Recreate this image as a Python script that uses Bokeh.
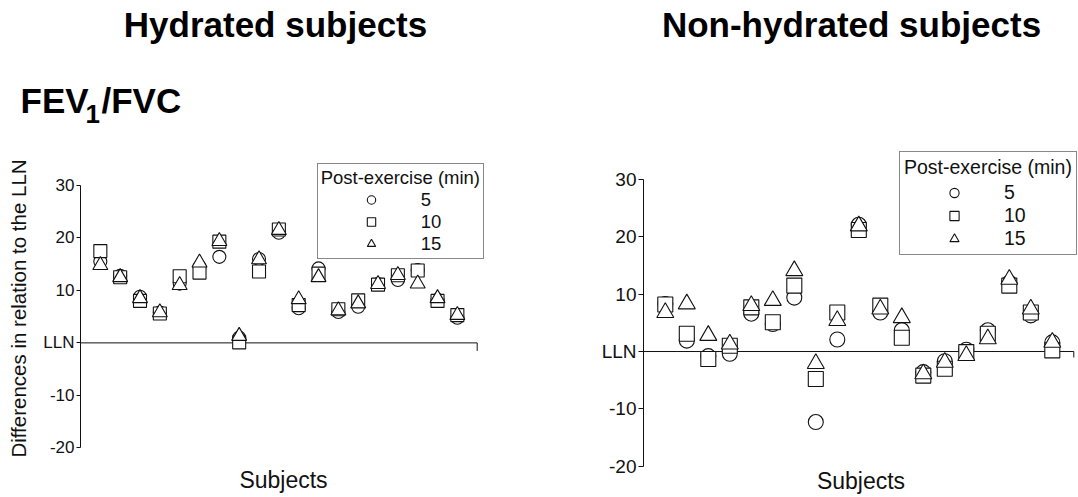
from bokeh.plotting import figure
from bokeh.models import Range1d, LinearAxis, FixedTicker, Legend, LegendItem, Label
from bokeh.layouts import row, column
from bokeh.embed import file_html
from bokeh.resources import INLINE

# ---------------- data ----------------
subjects = list(range(1, 20))

# Hydrated subjects: difference in relation to the LLN at 5, 10, 15 min post-exercise
hyd_5 = [15.5, 12.8, 8.8, 5.8, 11.3, 14.5, 16.4, 1.0, 16.0, 21.0, 6.6, 14.2, 5.9, 6.9, 11.2, 12.0, 13.9, 8.2, 4.8]
hyd_10 = [17.5, 12.5, 8.0, 5.6, 12.7, 13.4, 19.3, 0.1, 13.6, 21.6, 7.2, 13.2, 6.4, 8.1, 11.1, 12.9, 13.8, 8.0, 5.3]
hyd_15 = [14.8, 12.5, 8.5, 5.8, 11.0, 15.3, 19.4, 1.3, 15.9, 21.5, 8.3, 12.5, 6.2, 7.5, 11.2, 12.9, 11.3, 8.5, 5.3]

# Non-hydrated subjects
non_5 = [8.3, 1.9, -0.8, -0.4, 6.6, 4.8, 9.4, -12.3, 2.1, 22.1, 6.8, 3.7, -3.6, -1.7, 0.3, 3.7, 12.0, 6.3, 1.6]
non_10 = [8.2, 3.1, -1.3, 1.0, 7.7, 5.1, 11.5, -4.8, 6.8, 21.2, 8.0, 2.4, -4.2, -3.0, -0.1, 3.1, 11.5, 6.8, 0.2]
non_15 = [6.8, 8.3, 2.8, 1.3, 8.0, 8.9, 14.1, -2.1, 5.4, 21.9, 7.4, 5.9, -3.9, -1.9, -0.7, 2.2, 12.6, 7.4, 1.6]

y_ticks = [-20, -10, 0, 10, 20, 30]
tick_labels = {t: ("LLN" if t == 0 else str(t)) for t in y_ticks}
legend_title = "Post-exercise (min)"
legend_labels = ["5", "10", "15"]
markers = ["circle", "square", "triangle"]

FONT = "Liberation Sans"
INK = "#111111"

HEADER_H = 150
PANEL_H = 497 - HEADER_H
FRAME_BOTTOM = 316  # shared by both panels (row aligns frames)


def make_panel(width, fl, fr, x0_px, xn_px, y30_px, ym20_px,
               series, tick_fs, tick_len, marker_size, tri_size, lln_tick_px,
               leg, ylabel=None, ylabel_standoff=7, xlabel_standoff=0):
    height = PANEL_H
    ft, fb = 0, FRAME_BOTTOM
    n_end = len(subjects) + 1
    ppx = (xn_px - x0_px) / n_end
    x_start = (fl - x0_px) / ppx
    x_end = (fr - x0_px) / ppx
    ppy = (ym20_px - y30_px) / (y_ticks[-1] - y_ticks[0])
    y_end = y_ticks[-1] + (y30_px - ft) / ppy
    y_start = y_ticks[0] - (fb - ym20_px) / ppy

    p = figure(width=width, height=height, output_backend="svg", toolbar_location=None,
               x_range=Range1d(x_start, x_end), y_range=Range1d(y_start, y_end),
               x_axis_type=None, y_axis_type=None,
               min_border_left=fl, min_border_right=width - fr,
               min_border_top=ft, min_border_bottom=height - fb)
    p.outline_line_color = None
    p.background_fill_color = "white"
    p.border_fill_color = "white"
    p.xgrid.visible = False
    p.ygrid.visible = False

    yax = LinearAxis(bounds=(y_ticks[0], y_ticks[-1]), ticker=FixedTicker(ticks=y_ticks),
                     major_label_overrides=tick_labels,
                     axis_line_color=INK, axis_line_width=1,
                     major_tick_line_color=INK, major_tick_in=0, major_tick_out=tick_len,
                     minor_tick_line_color=None, major_label_standoff=2,
                     major_label_text_font=FONT, major_label_text_font_size=tick_fs,
                     major_label_text_color=INK)
    if ylabel:
        yax.axis_label = ylabel
        yax.axis_label_text_font = FONT
        yax.axis_label_text_font_size = "20.5px"
        yax.axis_label_text_font_style = "normal"
        yax.axis_label_text_color = INK
        yax.axis_label_standoff = ylabel_standoff
    p.add_layout(yax, "left")

    xax = LinearAxis(ticker=FixedTicker(ticks=[]), axis_label="Subjects",
                     axis_line_color=None, major_tick_line_color=None, minor_tick_line_color=None,
                     major_tick_out=0, major_tick_in=0, minor_tick_out=0, minor_tick_in=0,
                     major_label_standoff=0, major_label_text_font_size="0px",
                     axis_label_standoff=xlabel_standoff,
                     axis_label_text_font=FONT, axis_label_text_font_size="23px",
                     axis_label_text_font_style="normal", axis_label_text_color=INK)
    p.add_layout(xax, "below")

    # LLN reference line with its end tick
    lln = 0
    tick_units = lln_tick_px / ppy
    p.segment(x0=[0, n_end], y0=[lln, lln], x1=[n_end, n_end], y1=[lln, lln - tick_units],
              line_color=INK, line_width=1)

    rends = []
    for vals, mk in zip(series, markers):
        sz = tri_size if mk == "triangle" else marker_size
        r = p.scatter(x=subjects, y=vals, marker=mk, size=sz, line_color=INK,
                      fill_color="white", line_width=1.1)
        rends.append(r)

    items = [LegendItem(label=lab, renderers=[r]) for lab, r in zip(legend_labels, rends)]
    legend = Legend(items=items, title=legend_title, location=leg["loc"],
                    title_text_font=FONT, title_text_font_size=leg["fs"],
                    title_text_font_style="normal", title_text_color=INK,
                    title_standoff=leg["ts"],
                    label_text_font=FONT, label_text_font_size=leg["fs"], label_text_color=INK,
                    label_standoff=0, glyph_width=leg["gw"], glyph_height=leg["gh"],
                    label_height=leg["gh"], spacing=0, padding=leg["pad"], margin=0,
                    border_line_color=INK, border_line_width=1,
                    background_fill_color="white", background_fill_alpha=1.0)
    p.add_layout(legend, "center")
    return p


# ---------------- header with the titles ----------------
header = figure(width=1078, height=HEADER_H, output_backend="svg", toolbar_location=None,
                x_range=Range1d(0, 1), y_range=Range1d(0, 1),
                x_axis_type=None, y_axis_type=None,
                min_border_left=0, min_border_right=0, min_border_top=0, min_border_bottom=0)
header.outline_line_color = None
header.xgrid.visible = False
header.ygrid.visible = False

for txt, x, y, fs, align in [
    ("Hydrated subjects", 275, 125.8, "35px", "center"),
    ("Non-hydrated subjects", 851, 125.8, "35px", "center"),
    ("FEV", 20, 49.8, "35px", "left"),
    ("1", 85, 36.5, "26px", "left"),
    ("/FVC", 101, 49.8, "35px", "left"),
]:
    header.add_layout(Label(x=x, y=y, x_units="screen", y_units="screen", text=txt,
                            text_font=FONT, text_font_size=fs, text_font_style="bold",
                            text_align=align, text_baseline="middle", text_color="black"))

# ---------------- panels ----------------
left = make_panel(
    width=540, fl=80, fr=486, x0_px=80, xn_px=476.7, y30_px=35, ym20_px=297.3,
    series=[hyd_5, hyd_10, hyd_15], tick_fs="17px", tick_len=4,
    marker_size=13, tri_size=15, lln_tick_px=8,
    leg=dict(loc=(236.7, 207.5), fs="18.5px", gw=100, gh=21, pad=3, ts=0),
    ylabel="Differences in relation to the LLN", ylabel_standoff=10, xlabel_standoff=0)

right = make_panel(
    width=538, fl=103, fr=538, x0_px=103.3, xn_px=533.3, y30_px=29, ym20_px=315.7,
    series=[non_5, non_10, non_15], tick_fs="19px", tick_len=5,
    marker_size=15, tri_size=17, lln_tick_px=6,
    leg=dict(loc=(256, 210.6), fs="19.5px", gw=100, gh=23, pad=4, ts=2),
    ylabel=None, xlabel_standoff=1)

layout = column(header, row(left, right))
open("out.html", "w").write(file_html(layout, INLINE))
